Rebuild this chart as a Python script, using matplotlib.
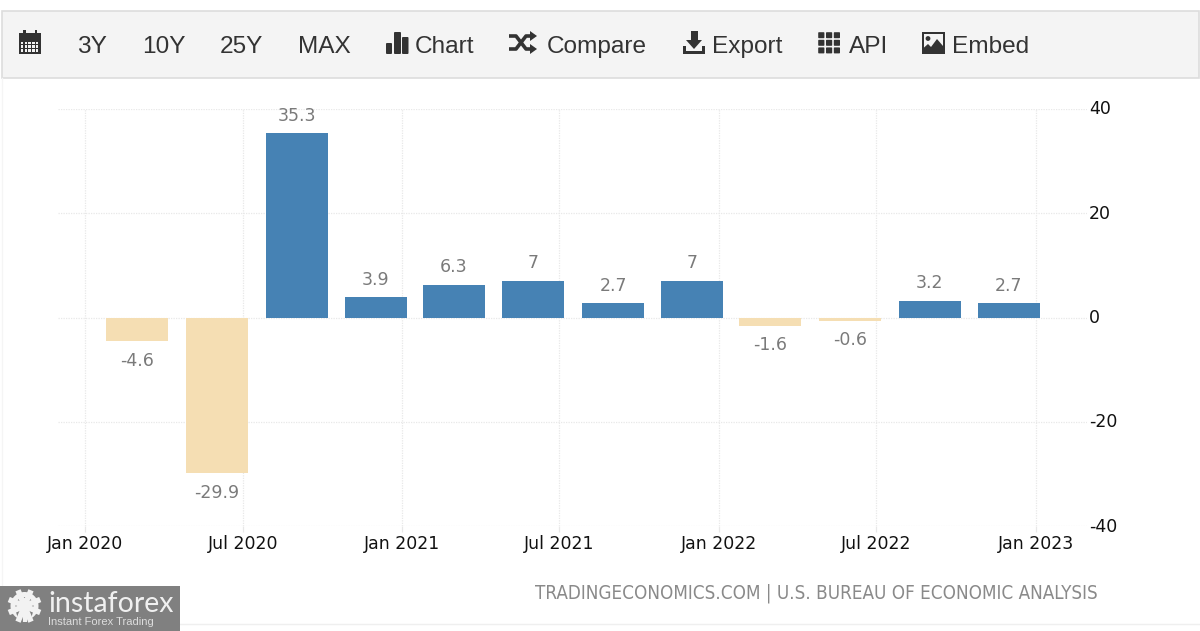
import datetime as dt
import numpy as np
import matplotlib
matplotlib.use("Agg")
import matplotlib.pyplot as plt
import matplotlib.dates as mdates
from matplotlib.patches import Rectangle, FancyBboxPatch, Polygon, Circle
from matplotlib.transforms import ScaledTranslation

# ---- data ----
quarters = ["2020-03-01", "2020-06-01", "2020-09-01", "2020-12-01",
            "2021-03-01", "2021-06-01", "2021-09-01", "2021-12-01",
            "2022-03-01", "2022-06-01", "2022-09-01", "2022-12-01"]
gdp_growth = [-4.6, -29.9, 35.3, 3.9, 6.3, 7, 2.7, 7, -1.6, -0.6, 3.2, 2.7]
x_tick_dates = ["2020-01-01", "2020-07-01", "2021-01-01", "2021-07-01",
                "2022-01-01", "2022-07-01", "2023-01-01"]
x_tick_labels = ["Jan 2020", "Jul 2020", "Jan 2021", "Jul 2021",
                 "Jan 2022", "Jul 2022", "Jan 2023"]
y_ticks = [-40, -20, 0, 20, 40]
toolbar_items = ["3Y", "10Y", "25Y", "MAX", "Chart", "Compare", "Export", "API", "Embed"]
source_text = "TRADINGECONOMICS.COM | U.S. BUREAU OF ECONOMIC ANALYSIS"

W, H = 1200, 631
BLUE, SAND = "#4682b4", "#f5deb3"
GRID = "#e8e8e8"
fig = plt.figure(figsize=(W / 100, H / 100), dpi=100, facecolor="white")

# pixel-space overlay for page furniture
bg = fig.add_axes([0, 0, 1, 1], zorder=0)
bg.set_xlim(0, W); bg.set_ylim(H, 0); bg.axis("off")
TB = "#f4f4f4"
bg.add_patch(Rectangle((2, 10.5), 1197, 67.5, fc=TB, ec="#dddddd", lw=1.2))
bg.plot([1.5, 1.5], [78, 631], color="#f5f5f5", lw=1)
bg.plot([180, 1200], [623.5, 623.5], color="#efefef", lw=1)

ink = "#333333"
tb_font = "Liberation Sans"
positions = [77.5, 142, 219.5, 297.5, 415, 547, 712, 849, 952]
for s, x in zip(toolbar_items, positions):
    bg.text(x, 53, s, fontsize=17.6, family=tb_font, color=ink, ha="left", va="baseline")

# calendar icon
bg.add_patch(Rectangle((19, 33), 22, 21, fc=ink, ec="none"))
bg.add_patch(Rectangle((23, 30), 2.5, 5, fc=ink, ec="none")); bg.add_patch(Rectangle((34.5, 30), 2.5, 5, fc=ink, ec="none"))
for i in range(5):
    for j in range(3):
        bg.add_patch(Rectangle((21 + i * 3.7, 41.5 + j * 3.8), 2.4, 2.4, fc=TB, ec="none"))
# bar-chart icon
for x0, w0, y0 in [(387, 4, 44), (395, 5, 33), (403, 4.5, 38)]:
    bg.add_patch(FancyBboxPatch((x0, y0), w0, 53 - y0, boxstyle="round,pad=1", fc=ink, ec="none"))
# shuffle icon
bg.plot([509, 516, 526, 532], [36, 36, 49, 49], color=ink, lw=2.6, solid_capstyle="butt")
bg.plot([509, 516, 526, 532], [49, 49, 36, 36], color=ink, lw=2.6, solid_capstyle="butt")
bg.add_patch(Polygon([[530, 31], [537, 36], [530, 41]], fc=ink, ec="none"))
bg.add_patch(Polygon([[530, 44], [537, 49], [530, 54]], fc=ink, ec="none"))
# download icon
bg.add_patch(Rectangle((690.5, 31), 7, 10, fc=ink, ec="none"))
bg.add_patch(Polygon([[686, 40], [702, 40], [694, 49]], fc=ink, ec="none"))
bg.add_patch(Rectangle((683, 50.5), 22, 3.5, fc=ink, ec="none"))
bg.add_patch(Rectangle((683, 46), 2.6, 6, fc=ink, ec="none"))
bg.add_patch(Rectangle((702.4, 46), 2.6, 6, fc=ink, ec="none"))
# grid icon
for i in range(3):
    for j in range(3):
        bg.add_patch(FancyBboxPatch((819 + i * 7.8, 33 + j * 7.6), 4.6, 4.4, boxstyle="round,pad=0.8", fc=ink, ec="none"))
# image icon
bg.add_patch(Rectangle((921.5, 32), 23.5, 22, fc=ink, ec="none"))
bg.add_patch(Rectangle((923.5, 34), 19.5, 18, fc=TB, ec="none"))
bg.add_patch(Circle((928, 38.5), 2.4, fc=ink, ec="none"))
bg.add_patch(Polygon([[923.5, 52], [923.5, 48], [928, 44], [931, 47], [937, 39], [943, 46], [943, 52]], fc=ink, ec="none"))

# chart
L, R, T, B = 58, 1087, 109, 526
ax = fig.add_axes([L / W, 1 - B / H, (R - L) / W, (B - T) / H], zorder=1)
ax.patch.set_alpha(0)
dates = [dt.date.fromisoformat(d) for d in quarters]
colors = [BLUE if v >= 0 else SAND for v in gdp_growth]
ax.bar(dates, gdp_growth, width=71.5, color=colors, zorder=3)

start = mdates.date2num(dt.date(2020, 1, 1))
px_per_day = (1036 - 85.5) / 1096
ax.set_xlim(start - (85 - L) / px_per_day, start + (R - 85) / px_per_day)
ax.set_ylim(-40, 40)
ax.set_xticks([dt.date.fromisoformat(d) for d in x_tick_dates])
ax.set_xticklabels(x_tick_labels)
ax.set_yticks(y_ticks)
ax.set_yticklabels([str(v) for v in y_ticks])
ax.yaxis.tick_right()
ax.grid(True, color=GRID, lw=0.9, ls=(0, (1, 1)), zorder=0)
for s in ax.spines.values():
    s.set_visible(False)
ax.tick_params(axis="y", length=0, pad=1.4, labelsize=12.5, labelcolor="#111111")
ax.tick_params(axis="x", length=4.3, width=0.9, color=GRID, pad=2, labelsize=12.5, labelcolor="#111111")
up = ScaledTranslation(0, 1.5 / 100, fig.dpi_scale_trans)
for lab in ax.get_yticklabels():
    lab.set_transform(lab.get_transform() + up)
for lab in ax.get_xticklabels() + ax.get_yticklabels():
    lab.set_family("DejaVu Sans")

for d, v in zip(dates, gdp_growth):
    ax.annotate(f"{v:g}", (d, v), xytext=(0, 6.2 if v >= 0 else -7.6), textcoords="offset points",
                ha="center", va="bottom" if v >= 0 else "top", fontsize=12.5, color="#7a7a7a", zorder=4)

bg.text(1098, 593, source_text, ha="right", va="center", fontsize=13.5, color="#8a8a8a",
        family="DejaVu Sans", stretch="condensed")

# watermark
wm = fig.add_axes([0, 0, 1, 1], zorder=5)
wm.set_xlim(0, W); wm.set_ylim(H, 0); wm.axis("off"); wm.patch.set_alpha(0)
wm.add_patch(Rectangle((0, 586), 180, 45, fc="#808080", ec="none"))
cx, cy = 24.5, 606
LOGO = "#f2f2f2"
for a in np.deg2rad(np.arange(0, 360, 45) + 22.5):
    wm.plot([cx, cx + 17 * np.cos(a)], [cy, cy + 17 * np.sin(a)], color=LOGO, lw=4, solid_capstyle="butt")
wm.add_patch(Circle((cx, cy), 14, fc=LOGO, ec="none"))
wm.add_patch(Circle((cx, cy), 9, fc="#808080", ec="none"))
wm.add_patch(Polygon([[cx - 8.5, cy + 6], [cx + 8.5, cy + 6], [cx + 5, cy + 18], [cx - 5, cy + 18]], fc="#808080", ec="none"))
wm.add_patch(Circle((cx, cy - 5), 3.2, fc=LOGO, ec="none"))
wm.plot([cx, cx], [cy - 3, cy + 16], color=LOGO, lw=3, solid_capstyle="butt")
wm.text(48, 604, "instaforex", color="#f0f0f0", fontsize=20.5, family="Lato", va="center", ha="left")
wm.text(48, 622, "Instant Forex Trading", color="#dcdcdc", fontsize=8, family="Liberation Sans", va="center", ha="left")

fig.savefig("out.png", dpi=100)
